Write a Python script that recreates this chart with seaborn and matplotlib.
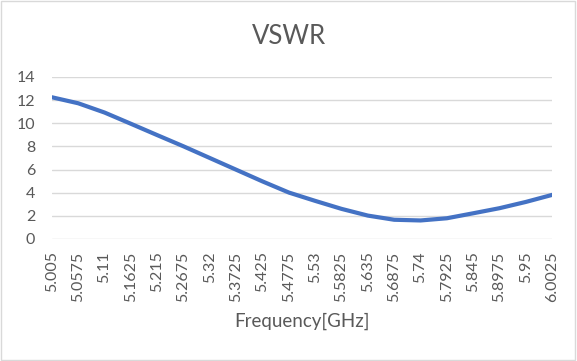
import matplotlib
matplotlib.use("Agg")
import matplotlib.pyplot as plt
import seaborn as sns
import pandas as pd

# frequency points (GHz) and VSWR
freq = [5.005, 5.0575, 5.11, 5.1625, 5.215, 5.2675, 5.32, 5.3725, 5.425, 5.4775,
        5.53, 5.5825, 5.635, 5.6875, 5.74, 5.7925, 5.845, 5.8975, 5.95, 6.0025]
vswr = [12.24, 11.72, 10.92, 9.95, 8.97, 8.00, 6.99, 5.98, 4.97, 4.01,
        3.29, 2.60, 2.02, 1.66, 1.60, 1.79, 2.22, 2.66, 3.20, 3.81]
tick_labels = ["5.005", "5.0575", "5.11", "5.1625", "5.215", "5.2675", "5.32", "5.3725",
               "5.425", "5.4775", "5.53", "5.5825", "5.635", "5.6875", "5.74", "5.7925",
               "5.845", "5.8975", "5.95", "6.0025"]
y_ticks = [0, 2, 4, 6, 8, 10, 12, 14]

df = pd.DataFrame({"freq": freq, "vswr": vswr})

sns.set_style("white")
plt.rcParams["font.family"] = ["Lato", "DejaVu Sans"]

fig = plt.figure(figsize=(5.77, 3.61), dpi=100)
ax = fig.add_axes([0.09, 0.338, 0.867, 0.449])

sns.lineplot(data=df, x="freq", y="vswr", ax=ax, color="#4472C4", linewidth=3)

grey = "#595959"
ax.set_xlim(freq[0], freq[-1])
ax.set_ylim(0, 14)
ax.set_yticks(y_ticks)
ax.set_yticklabels([str(v) for v in y_ticks], color=grey, fontsize=11.5)
ax.set_xticks(freq)
ax.set_xticklabels(tick_labels, rotation=90, color=grey, fontsize=11.5)
ax.tick_params(axis="x", length=0, pad=9)
ax.tick_params(axis="y", length=0, pad=12)
ax.grid(axis="y", color="#D9D9D9", linewidth=1)
ax.set_axisbelow(True)
for s in ax.spines.values():
    s.set_visible(False)

ax.set_xlabel("Frequency[GHz]", color=grey, fontsize=13.5, labelpad=8)
ax.set_ylabel("")
# title sits in the middle of the whole chart, not of the plot area
fig.suptitle("VSWR", color=grey, fontsize=18.5, x=0.5, y=0.9, va="center")

# light border round the whole chart
fig.patches.append(plt.Rectangle((0.002, 0.003), 0.995, 0.993, transform=fig.transFigure,
                                 fill=False, edgecolor="#D9D9D9", linewidth=1))

fig.savefig("out.png", dpi=100)
